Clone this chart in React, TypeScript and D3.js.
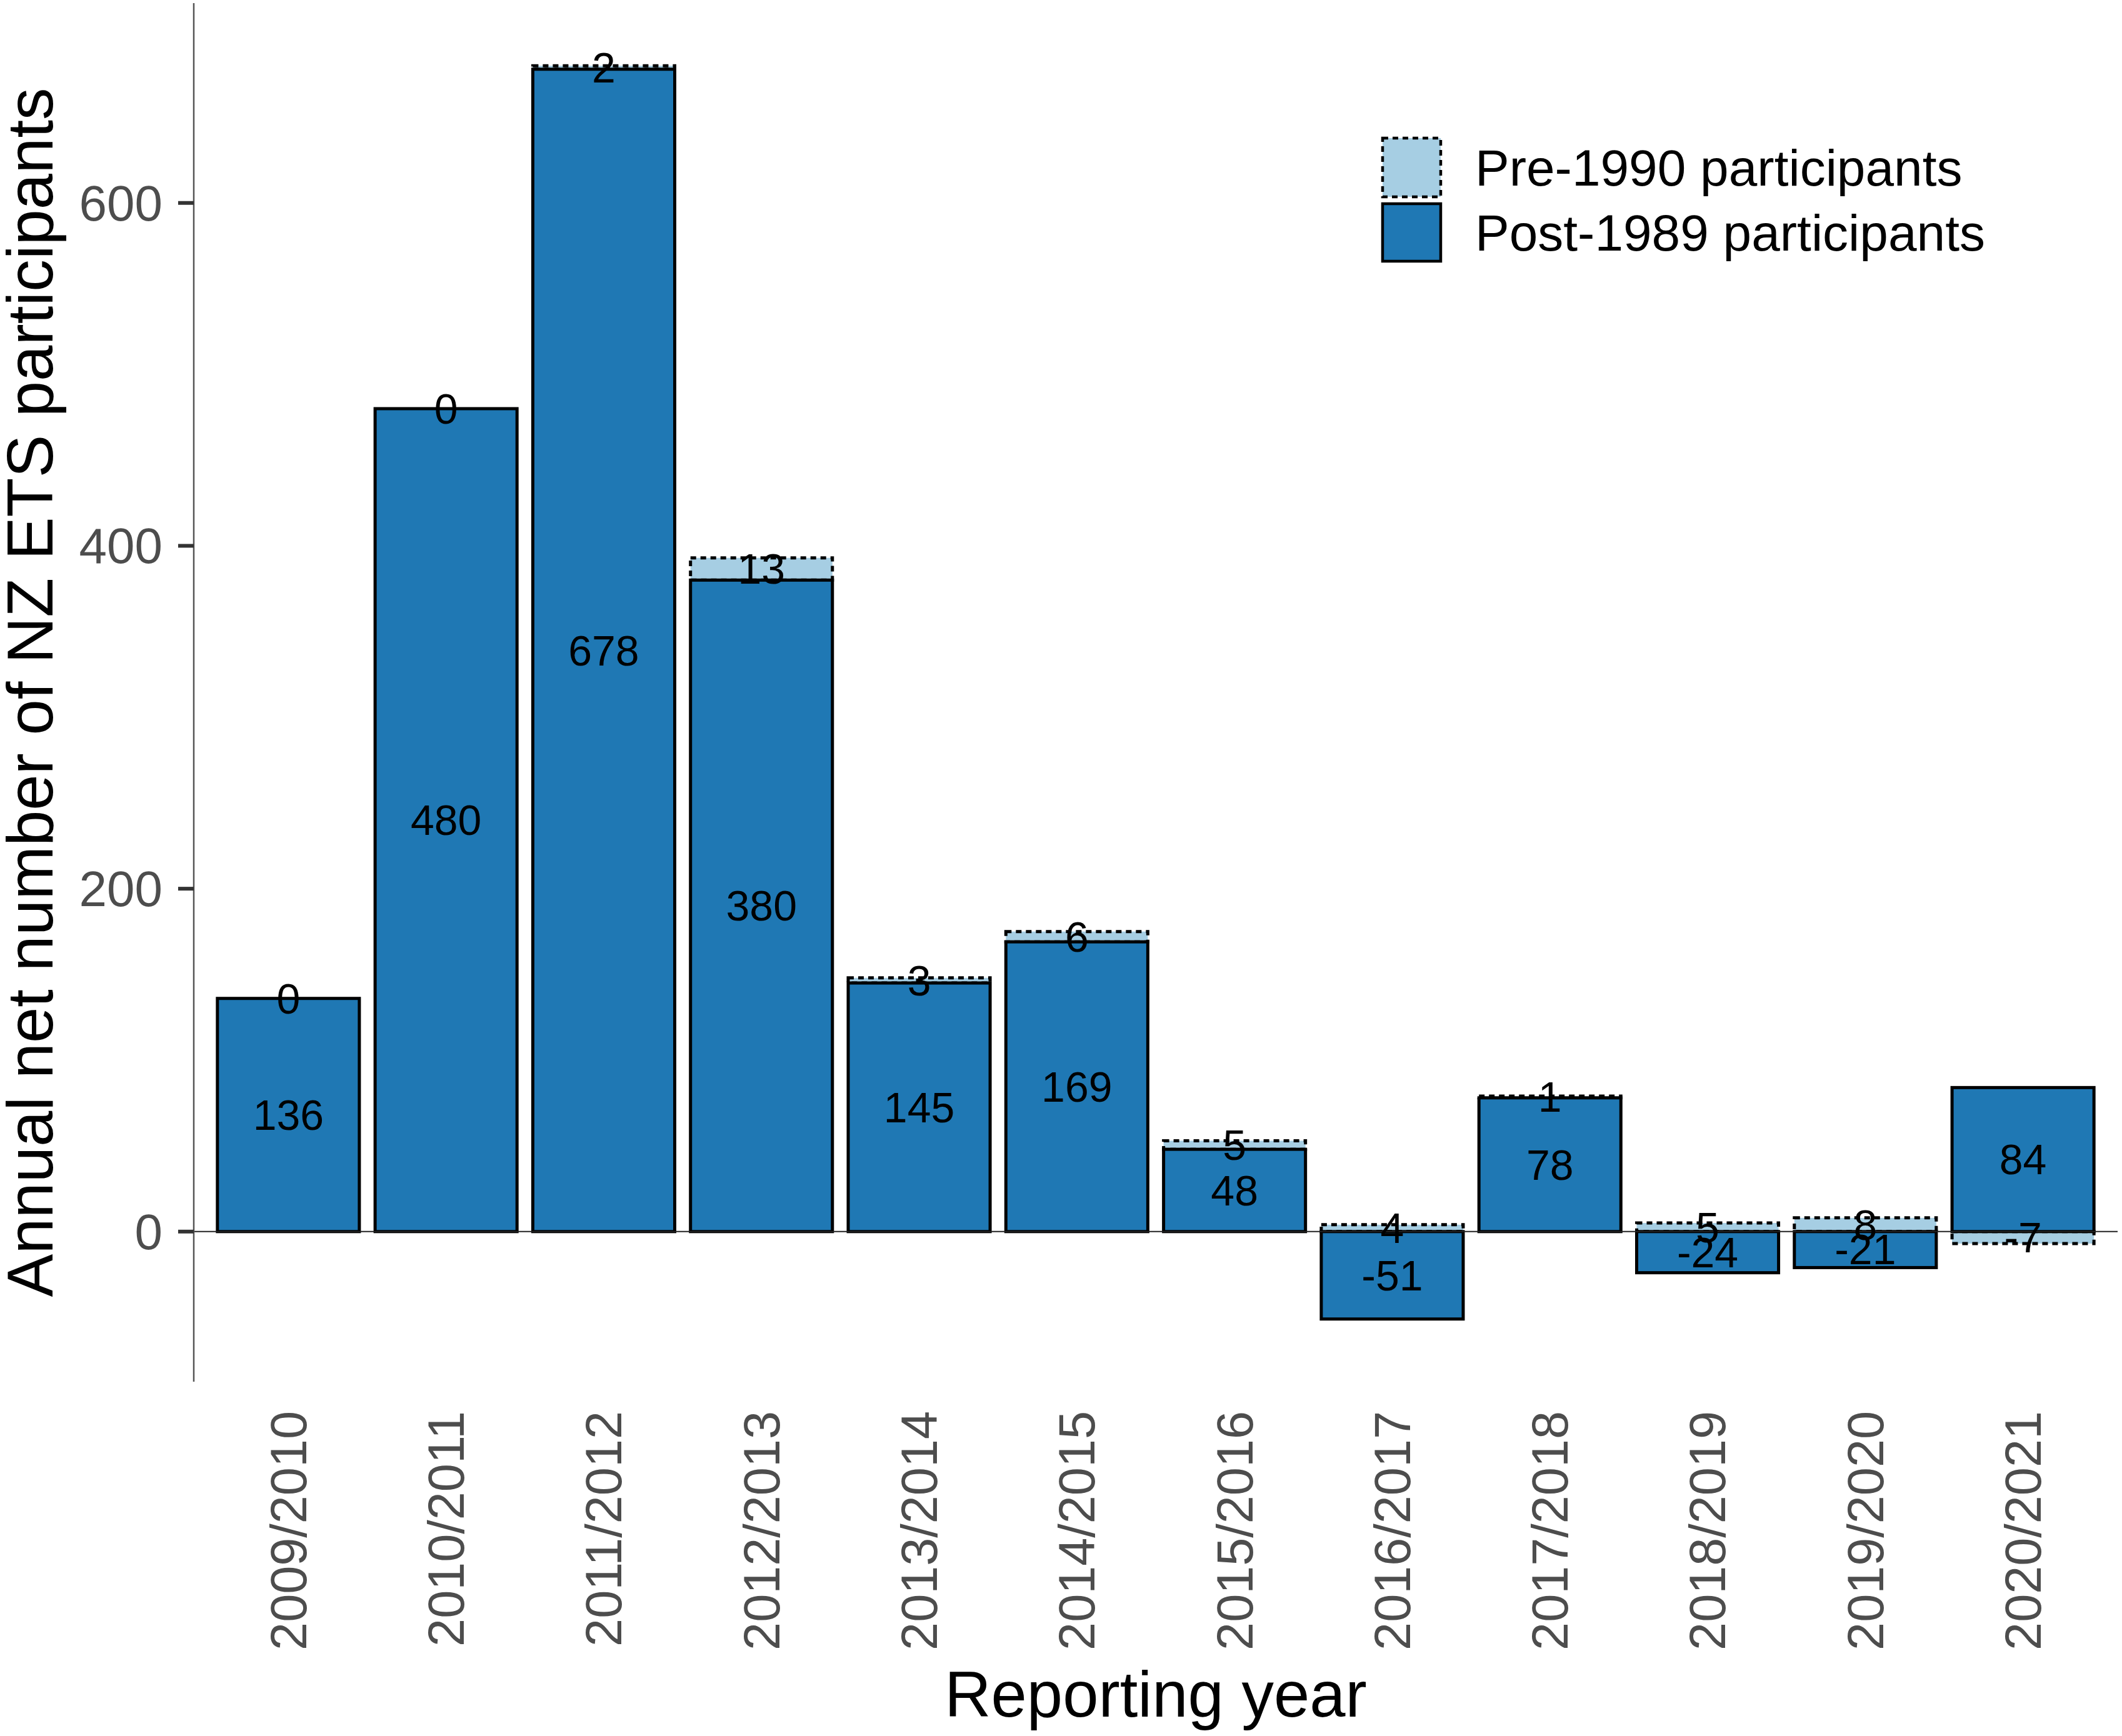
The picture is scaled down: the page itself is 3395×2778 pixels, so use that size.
import * as d3 from "d3";
import React from "react";

const years = [
  "2009/2010", "2010/2011", "2011/2012", "2012/2013", "2013/2014", "2014/2015",
  "2015/2016", "2016/2017", "2017/2018", "2018/2019", "2019/2020", "2020/2021",
];
const post1989 = [136, 480, 678, 380, 145, 169, 48, -51, 78, -24, -21, 84];
const pre1990 = [0, 0, 2, 13, 3, 6, 5, 4, 1, 5, 8, -7];
const yTicks = [0, 200, 400, 600];

const W = 3395;
const H = 2778;
const left = 310;
const right = 3388;
const top = 5;
const bottom = 2211;

const postColor = "#1F78B4";
const preColor = "#A6CEE3";
const font = "'Liberation Sans', Arial, sans-serif";

// stack like ggplot: positives and negatives stack separately, post at the base
const stacked = years.map((year, i) => {
  const post = post1989[i];
  const pre = pre1990[i];
  const postSeg = post >= 0 ? [0, post] : [post, 0];
  let preSeg: number[];
  if (pre >= 0) {
    const base = post >= 0 ? post : 0;
    preSeg = [base, base + pre];
  } else {
    const base = post < 0 ? post : 0;
    preSeg = [base + pre, base];
  }
  return { year, post, pre, postSeg, preSeg };
});

const lo = d3.min(stacked, (d) => Math.min(d.postSeg[0], d.preSeg[0]))!;
const hi = d3.max(stacked, (d) => Math.max(d.postSeg[1], d.preSeg[1]))!;
const pad = (hi - lo) * 0.05;

const x = d3
  .scaleBand<string>()
  .domain(years)
  .range([left, right])
  .paddingInner(0.1)
  .paddingOuter(0.15);

const y = d3.scaleLinear().domain([lo - pad, hi + pad]).range([bottom, top]);

export default function App() {
  const bw = x.bandwidth();
  return (
    <div style={{ position: "absolute", left: 0, top: 0 }}>
      <svg width={W} height={H} style={{ display: "block", background: "#fff" }} fontFamily={font}>
        {/* pre-1990 segments first, post-1989 drawn over them */}
        {stacked.map((d) => (
          <rect
            key={"pre" + d.year}
            x={x(d.year)}
            y={y(d.preSeg[1])}
            width={bw}
            height={y(d.preSeg[0]) - y(d.preSeg[1])}
            fill={preColor}
            stroke="#000"
            strokeWidth={5}
            strokeDasharray="9 7"
          />
        ))}
        {stacked.map((d) => (
          <rect
            key={"post" + d.year}
            x={x(d.year)}
            y={y(d.postSeg[1])}
            width={bw}
            height={y(d.postSeg[0]) - y(d.postSeg[1])}
            fill={postColor}
            stroke="#000"
            strokeWidth={5}
          />
        ))}

        {/* zero line */}
        <line x1={left} x2={right} y1={y(0)} y2={y(0)} stroke="#222" strokeWidth={2} />

        {/* value labels */}
        {stacked.map((d) => (
          <g key={"lab" + d.year} fontSize={68} textAnchor="middle" fill="#000">
            <text x={x(d.year)! + bw / 2} y={y((d.postSeg[0] + d.postSeg[1]) / 2)} dy="0.35em">
              {d.post}
            </text>
            <text x={x(d.year)! + bw / 2} y={y((d.preSeg[0] + d.preSeg[1]) / 2)} dy="0.35em">
              {d.pre}
            </text>
          </g>
        ))}

        {/* y axis */}
        <line x1={left} x2={left} y1={top} y2={bottom} stroke="#555" strokeWidth={2.5} />
        {yTicks.map((t) => (
          <g key={"yt" + t}>
            <line x1={left - 25} x2={left} y1={y(t)} y2={y(t)} stroke="#333" strokeWidth={6} />
            <text
              x={left - 50}
              y={y(t)}
              dy="0.35em"
              textAnchor="end"
              fontSize={80}
              fill="#4D4D4D"
            >
              {t}
            </text>
          </g>
        ))}

        {/* x tick labels */}
        {years.map((yr) => (
          <text
            key={"xt" + yr}
            transform={`translate(${x(yr)! + bw / 2},2258) rotate(-90)`}
            dy="0.35em"
            textAnchor="end"
            fontSize={81}
            fill="#4D4D4D"
          >
            {yr}
          </text>
        ))}

        {/* axis titles */}
        <text x={(left + right) / 2} y={2747} textAnchor="middle" fontSize={103} fill="#000">
          Reporting year
        </text>
        <text
          transform={`translate(84,${(top + bottom) / 2}) rotate(-90)`}
          textAnchor="middle"
          fontSize={103}
          fill="#000"
        >
          Annual net number of NZ ETS participants
        </text>

        {/* legend */}
        <g fontSize={82} fill="#000">
          <rect x={2212} y={221} width={93} height={94} fill={preColor} stroke="#000" strokeWidth={4.5} strokeDasharray="9 7" />
          <text x={2360} y={268} dy="0.35em">Pre-1990 participants</text>
          <rect x={2212} y={326} width={93} height={92} fill={postColor} stroke="#000" strokeWidth={4.5} />
          <text x={2360} y={372} dy="0.35em">Post-1989 participants</text>
        </g>
      </svg>
    </div>
  );
}
